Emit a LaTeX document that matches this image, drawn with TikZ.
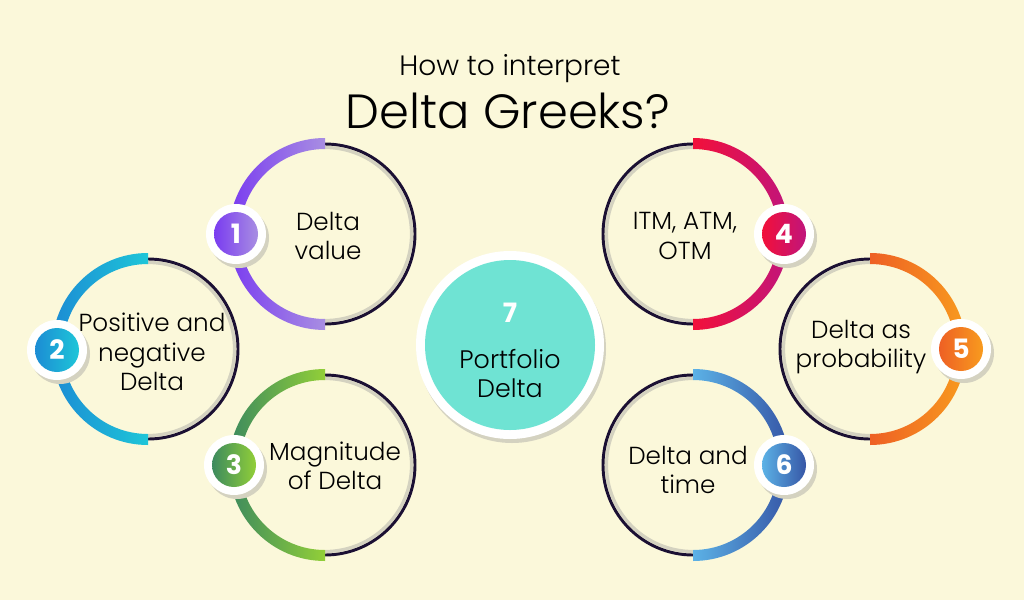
\documentclass[tikz,border=0pt]{standalone}
\usepackage{fontspec}
\setmainfont{Poppins}[UprightFont=* Light, BoldFont=* Bold]
\usetikzlibrary{calc}
\definecolor{bg}{HTML}{FBF8DA}
\definecolor{ink}{HTML}{1B1033}
\definecolor{shadowgrey}{HTML}{D4D2C0}
\definecolor{teal7}{HTML}{6FE3D3}
\definecolor{pA}{HTML}{7A3CF0}\definecolor{pB}{HTML}{A88EE2}
\definecolor{bA}{HTML}{1C8CD4}\definecolor{bB}{HTML}{1EC6D8}
\definecolor{gA}{HTML}{3C8A5E}\definecolor{gB}{HTML}{92CF38}
\definecolor{rA}{HTML}{F2103A}\definecolor{rB}{HTML}{C0157C}
\definecolor{oA}{HTML}{EE6024}\definecolor{oB}{HTML}{F89B1E}
\definecolor{lA}{HTML}{5CB2E6}\definecolor{lB}{HTML}{3656A6}
\newcommand\halfring[6]{%
  \shade[left color=#5, right color=#6] ($(#1,#2)+(#3:96)$) arc[start angle=#3, end angle=#4, radius=96]
    -- ($(#1,#2)+(#4:85)$) arc[start angle=#4, end angle=#3, radius=85] -- cycle;}
\newcommand\darkhalf[4]{%
  \draw[shadowgrey, line width=2.4pt] ($(#1,#2)+(#3:86.5)$) arc[start angle=#3, end angle=#4, radius=86.5];
  \draw[ink, line width=2.2pt] ($(#1,#2)+(#3:90)$) arc[start angle=#3, end angle=#4, radius=90];}
\tikzset{
  itemtext/.style={font=\fontsize{18.5}{22}\selectfont, align=center, text=black, inner sep=0pt},
  badgewhite/.style={circle, fill=white, minimum size=45pt, inner sep=0pt},
  badgeshadow/.style={circle, fill=shadowgrey, minimum size=45pt, inner sep=0pt},
  badgecore/.style={circle, minimum size=33pt, inner sep=0pt, text=white, font=\fontsize{20}{20}\selectfont\bfseries},
}
\begin{document}
\begin{tikzpicture}[x=0.75pt,y=-0.75pt]
\fill[bg] (0,0) rectangle (1024,600);
\useasboundingbox (0,0) rectangle (1024,600);

% title
\node[font=\fontsize{21}{22}\selectfont, anchor=base] (t1) at (510,75) {How to interpret};
\node[font=\fontsize{36}{38}\selectfont, anchor=base] (t2) at (508,128) {Delta Greeks?};

% rings
\darkhalf{325}{234}{-90}{90}
\halfring{325}{234}{90}{270}{pA}{pB}
\darkhalf{148}{349}{-90}{90}
\halfring{148}{349}{90}{270}{bA}{bB}
\darkhalf{325}{465}{-90}{90}
\halfring{325}{465}{90}{270}{gA}{gB}
\darkhalf{693}{234}{90}{270}
\halfring{693}{234}{-90}{90}{rA}{rB}
\darkhalf{870}{349}{90}{270}
\halfring{870}{349}{-90}{90}{oA}{oB}
\darkhalf{693}{465}{90}{270}
\halfring{693}{465}{-90}{90}{lA}{lB}

% center circle
\node[circle, fill=shadowgrey, minimum size=141pt, inner sep=0pt] (c7s) at (512,349) {};
\node[circle, fill=white, minimum size=141pt, inner sep=0pt] (c7w) at (510,345) {};
\node[circle, fill=teal7, minimum size=127.5pt, inner sep=0pt] (c7) at (510,345) {};
\node[font=\fontsize{20}{20}\selectfont\bfseries, text=white, anchor=base] (n7) at (510,322) {7};
\node[itemtext, font=\fontsize{19}{22.5}\selectfont, anchor=base] (l7a) at (510,368) {Portfolio};
\node[itemtext, font=\fontsize{19}{22.5}\selectfont, anchor=base] (l7b) at (510,397) {Delta};

% texts
\node[itemtext] (c1) at (328,236) {Delta\\value};
\node[itemtext] (c2) at (152,352) {Positive and\\negative\\Delta};
\node[itemtext] (c3) at (335,466) {Magnitude\\of Delta};
\node[itemtext] (c4) at (685,236) {ITM, ATM,\\OTM};
\node[itemtext] (c5) at (861,347) {Delta as\\probability};
\node[itemtext] (c6) at (688,470) {Delta and\\time};

% badges
\foreach \n/\x/\y/\ca/\cb in {1/236/234/pA/pB, 2/57/350/bA/bB, 3/234/465/gA/gB, 4/784/234/rA/rB, 5/961/349/oA/oB, 6/784/465/lA/lB}{
  \node[badgeshadow] (bs\n) at (\x+3,\y+4) {};
  \node[badgewhite] (bw\n) at (\x,\y) {};
  \node[badgecore, left color=\ca, right color=\cb] (b\n) at (\x,\y) {\n};
}
\end{tikzpicture}
\end{document}
